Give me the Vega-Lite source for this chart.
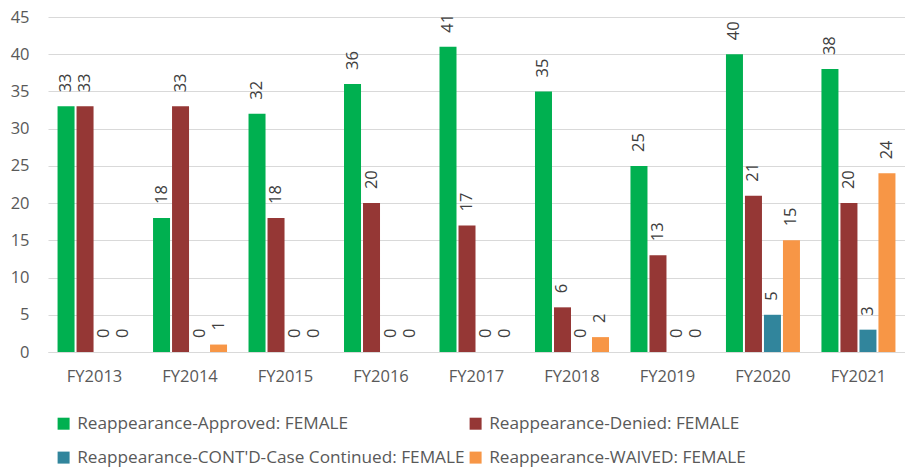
{
  "$schema": "https://vega.github.io/schema/vega-lite/v6.json",
  "width": 857,
  "height": 335,
  "autosize": {"type": "none"},
  "padding": {"left": 48, "top": 17, "right": 0, "bottom": 118},
  "background": "white",
  "config": {
    "view": {"stroke": null},
    "font": "Open Sans",
    "axis": {"labelFont": "Open Sans", "labelColor": "#595959", "labelFontSize": 16.5},
    "legend": {"labelFont": "Open Sans", "labelColor": "#595959", "labelFontSize": 17.2}
  },
  "data": {
    "values": [
      {"year": "FY2013", "series": "Reappearance-Approved: FEMALE", "value": 33},
      {"year": "FY2013", "series": "Reappearance-Denied: FEMALE", "value": 33},
      {"year": "FY2013", "series": "Reappearance-CONT'D-Case Continued: FEMALE", "value": 0},
      {"year": "FY2013", "series": "Reappearance-WAIVED: FEMALE", "value": 0},
      {"year": "FY2014", "series": "Reappearance-Approved: FEMALE", "value": 18},
      {"year": "FY2014", "series": "Reappearance-Denied: FEMALE", "value": 33},
      {"year": "FY2014", "series": "Reappearance-CONT'D-Case Continued: FEMALE", "value": 0},
      {"year": "FY2014", "series": "Reappearance-WAIVED: FEMALE", "value": 1},
      {"year": "FY2015", "series": "Reappearance-Approved: FEMALE", "value": 32},
      {"year": "FY2015", "series": "Reappearance-Denied: FEMALE", "value": 18},
      {"year": "FY2015", "series": "Reappearance-CONT'D-Case Continued: FEMALE", "value": 0},
      {"year": "FY2015", "series": "Reappearance-WAIVED: FEMALE", "value": 0},
      {"year": "FY2016", "series": "Reappearance-Approved: FEMALE", "value": 36},
      {"year": "FY2016", "series": "Reappearance-Denied: FEMALE", "value": 20},
      {"year": "FY2016", "series": "Reappearance-CONT'D-Case Continued: FEMALE", "value": 0},
      {"year": "FY2016", "series": "Reappearance-WAIVED: FEMALE", "value": 0},
      {"year": "FY2017", "series": "Reappearance-Approved: FEMALE", "value": 41},
      {"year": "FY2017", "series": "Reappearance-Denied: FEMALE", "value": 17},
      {"year": "FY2017", "series": "Reappearance-CONT'D-Case Continued: FEMALE", "value": 0},
      {"year": "FY2017", "series": "Reappearance-WAIVED: FEMALE", "value": 0},
      {"year": "FY2018", "series": "Reappearance-Approved: FEMALE", "value": 35},
      {"year": "FY2018", "series": "Reappearance-Denied: FEMALE", "value": 6},
      {"year": "FY2018", "series": "Reappearance-CONT'D-Case Continued: FEMALE", "value": 0},
      {"year": "FY2018", "series": "Reappearance-WAIVED: FEMALE", "value": 2},
      {"year": "FY2019", "series": "Reappearance-Approved: FEMALE", "value": 25},
      {"year": "FY2019", "series": "Reappearance-Denied: FEMALE", "value": 13},
      {"year": "FY2019", "series": "Reappearance-CONT'D-Case Continued: FEMALE", "value": 0},
      {"year": "FY2019", "series": "Reappearance-WAIVED: FEMALE", "value": 0},
      {"year": "FY2020", "series": "Reappearance-Approved: FEMALE", "value": 40},
      {"year": "FY2020", "series": "Reappearance-Denied: FEMALE", "value": 21},
      {"year": "FY2020", "series": "Reappearance-CONT'D-Case Continued: FEMALE", "value": 5},
      {"year": "FY2020", "series": "Reappearance-WAIVED: FEMALE", "value": 15},
      {"year": "FY2021", "series": "Reappearance-Approved: FEMALE", "value": 38},
      {"year": "FY2021", "series": "Reappearance-Denied: FEMALE", "value": 20},
      {"year": "FY2021", "series": "Reappearance-CONT'D-Case Continued: FEMALE", "value": 3},
      {"year": "FY2021", "series": "Reappearance-WAIVED: FEMALE", "value": 24}
    ]
  },
  "encoding": {
    "x": {
      "field": "year", "type": "nominal", "sort": null,
      "scale": {"paddingInner": 0.225, "paddingOuter": 0.1},
      "axis": {"title": null, "labelAngle": 0, "ticks": false, "domainColor": "#d9d9d9", "domainWidth": 1, "labelPadding": 16}
    },
    "xOffset": {
      "field": "series", "type": "nominal", "sort": null,
      "scale": {"paddingInner": 0.105, "paddingOuter": 0}
    },
    "y": {
      "field": "value", "type": "quantitative",
      "scale": {"domain": [0, 45], "nice": false},
      "axis": {"title": null, "values": [0, 5, 10, 15, 20, 25, 30, 35, 40, 45], "domain": false, "ticks": false, "gridColor": "#d9d9d9", "gridWidth": 1, "labelPadding": 19}
    }
  },
  "layer": [
    {
      "mark": {"type": "bar"},
      "encoding": {
        "color": {
          "field": "series", "type": "nominal", "sort": null,
          "scale": {
            "domain": ["Reappearance-Approved: FEMALE", "Reappearance-Denied: FEMALE", "Reappearance-CONT'D-Case Continued: FEMALE", "Reappearance-WAIVED: FEMALE"],
            "range": ["#00B050", "#953735", "#31859C", "#F79646"]
          },
          "legend": {
            "title": null, "orient": "none", "legendX": 7, "legendY": 398,
            "direction": "horizontal", "columns": 2, "symbolType": "square", "symbolSize": 144,
            "symbolStrokeWidth": 0, "labelOffset": 5, "columnPadding": 2, "rowPadding": 16, "labelLimit": 500
          }
        }
      }
    },
    {
      "mark": {"type": "text", "angle": -90, "align": "left", "baseline": "middle", "dx": 14, "fontSize": 16.5, "color": "#404040"},
      "encoding": {"text": {"field": "value", "type": "quantitative"}}
    }
  ]
}
